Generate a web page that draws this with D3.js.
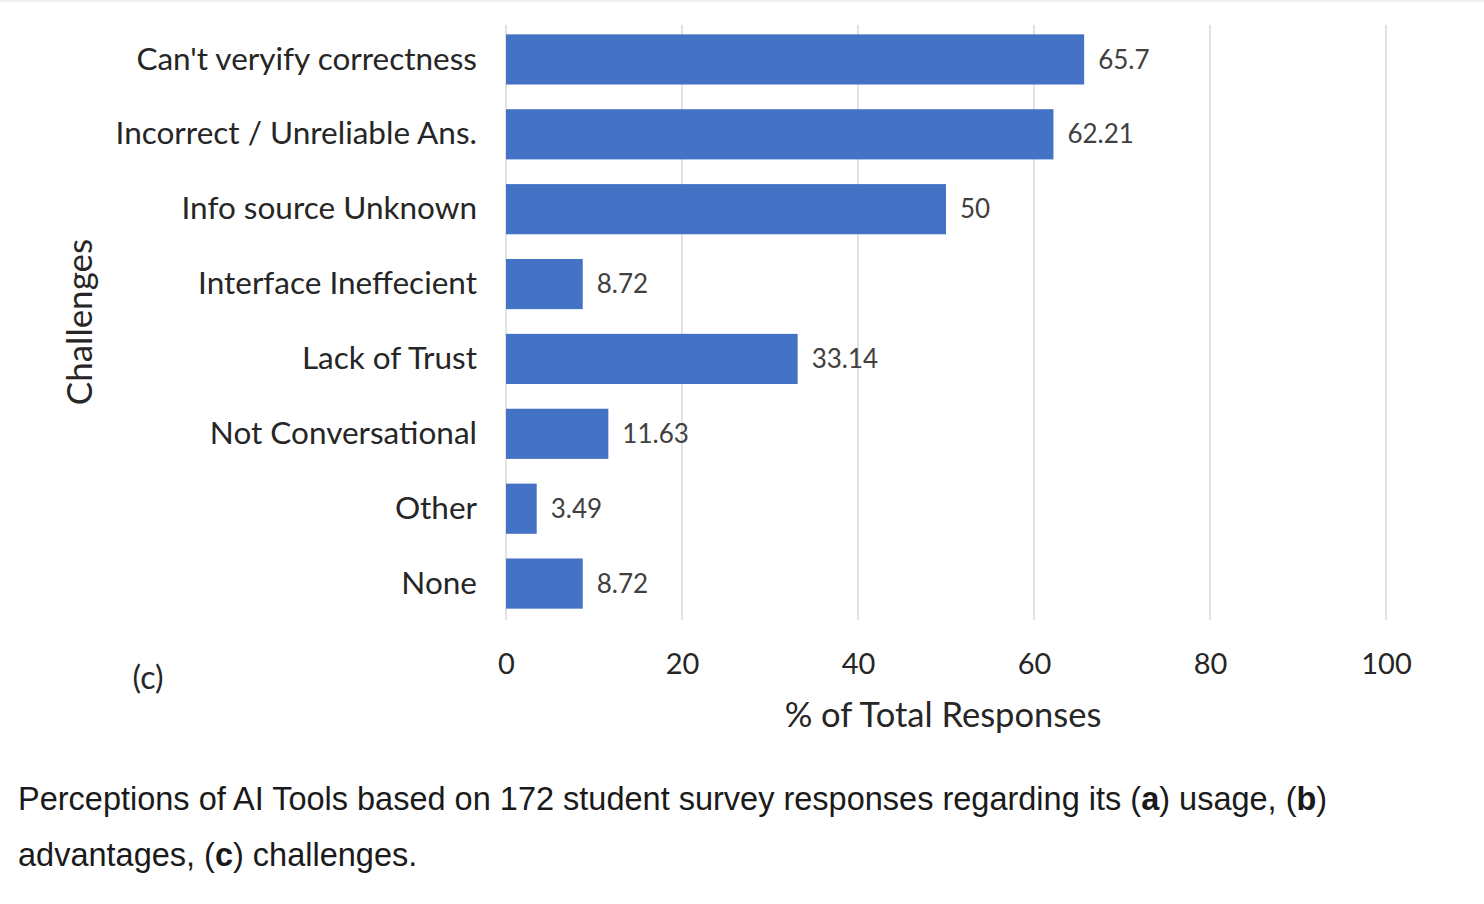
<!DOCTYPE html>
<html>
<head>
<meta charset="utf-8">
<script src="https://cdn.jsdelivr.net/npm/d3@7"></script>
<style>
body { margin:0; background:#fff; }
svg text { font-family: Lato, "Open Sans", sans-serif; }
</style>
</head>
<body>
<svg id="chart" width="1484" height="904"></svg>
<script>
// data
var categories = ["Can't veryify correctness", "Incorrect / Unreliable Ans.", "Info source Unknown",
    "Interface Ineffecient", "Lack of Trust", "Not Conversational", "Other", "None"];
var percents = [65.7, 62.21, 50, 8.72, 33.14, 11.63, 3.49, 8.72];
var valueLabels = ["65.7", "62.21", "50", "8.72", "33.14", "11.63", "3.49", "8.72"];
var xTicks = [0, 20, 40, 60, 80, 100];

var svg = d3.select("#chart");

var x = d3.scaleLinear().domain([0, 100]).range([506, 1386]);
var y = d3.scaleBand().domain(categories).range([22, 621]).paddingInner(0.33).paddingOuter(0.165);

// faint top border of the screenshot
svg.append("line").attr("x1",0).attr("x2",1484).attr("y1",1).attr("y2",1)
    .attr("stroke","#f0f0f0").attr("stroke-width",2);

// gridlines
svg.append("g").selectAll("line")
    .data(xTicks)
    .enter()
    .append("line")
        .attr("x1", function(d){ return x(d); })
        .attr("x2", function(d){ return x(d); })
        .attr("y1", 25)
        .attr("y2", 620)
        .attr("stroke", "#d9d9d9")
        .attr("stroke-width", 1.5);

// bars
svg.append("g").selectAll("rect")
    .data(percents)
    .enter()
    .append("rect")
        .attr("x", x(0))
        .attr("y", function(d, i){ return y(categories[i]); })
        .attr("width", function(d){ return x(d) - x(0); })
        .attr("height", y.bandwidth())
        .attr("fill", "#4472c4");

// value labels
svg.append("g").selectAll("text")
    .data(percents)
    .enter()
    .append("text")
        .attr("x", function(d){ return x(d) + 14; })
        .attr("y", function(d, i){ return y(categories[i]) + y.bandwidth()/2; })
        .attr("dy", "0.35em")
        .attr("font-size", 26)
        .attr("fill", "#404040")
        .text(function(d, i){ return valueLabels[i]; });

// category axis (no line, no ticks)
var yAxis = svg.append("g")
    .attr("transform", "translate(477,0)")
    .call(d3.axisLeft(y).tickSize(0).tickPadding(0));
yAxis.select(".domain").remove();
yAxis.selectAll("text")
    .attr("font-size", 31.5)
    .attr("fill", "#262626")
    .style("font-family", "Lato, sans-serif");

// x axis labels
var xAxis = svg.append("g")
    .attr("transform", "translate(0,664)")
    .call(d3.axisBottom(x).tickValues(xTicks).tickSize(0).tickPadding(0));
xAxis.select(".domain").remove();
xAxis.selectAll("text")
    .attr("dy", "0.35em")
    .attr("font-size", 29)
    .attr("fill", "#262626")
    .style("font-family", "Lato, sans-serif");

// axis titles
svg.append("text")
    .attr("x", 943).attr("y", 715).attr("dy", "0.35em")
    .attr("text-anchor", "middle")
    .attr("font-size", 34.5).attr("fill", "#262626")
    .text("% of Total Responses");

svg.append("text")
    .attr("transform", "translate(80,322) rotate(-90)")
    .attr("dy", "0.35em")
    .attr("text-anchor", "middle")
    .attr("font-size", 35).attr("fill", "#262626")
    .text("Challenges");

svg.append("text")
    .attr("x", 148).attr("y", 678).attr("dy", "0.35em")
    .attr("text-anchor", "middle")
    .attr("font-size", 32).attr("fill", "#262626")
    .text("(c)");

// caption below the figure
var captionLines = [
    [["Perceptions of AI Tools based on 172 student survey responses regarding its (", 0], ["a", 1], [") usage, (", 0], ["b", 1], [")", 0]],
    [["advantages, (", 0], ["c", 1], [") challenges.", 0]]
];
captionLines.forEach(function(parts, k){
    var t = svg.append("text")
        .attr("x", 18)
        .attr("y", 799 + k*56)
        .attr("dy", "0.35em")
        .attr("font-size", 32.5)
        .attr("fill", "#1a1a1a")
        .style("font-family", "'Liberation Sans', Arial, sans-serif");
    parts.forEach(function(p){
        t.append("tspan").attr("font-weight", p[1] ? "bold" : "normal").text(p[0]);
    });
});
</script>
</body>
</html>
